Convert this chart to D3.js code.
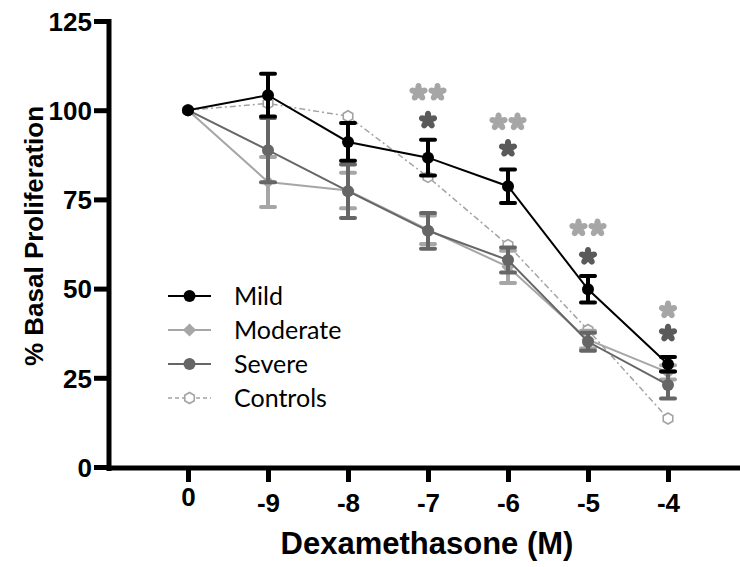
<!DOCTYPE html>
<html>
<head>
<meta charset="utf-8">
<script src="https://cdn.jsdelivr.net/npm/d3@7/dist/d3.min.js"></script>
<style>
  html, body { margin: 0; padding: 0; background: #fff; }
  svg { display: block; }
</style>
</head>
<body>
<svg id="chart" width="740" height="567"></svg>
<script>
// ---- data ----
const categories = ["0", "-9", "-8", "-7", "-6", "-5", "-4"];
const yTicks = [0, 25, 50, 75, 100, 125];
const seriesNames = ["Mild", "Moderate", "Severe", "Controls"];

const mild        = [100, 104.2, 91.1, 86.7, 78.7, 49.8, 28.8];
const mildErr     = [0, 6, 5.3, 5, 4.7, 3.7, 2];
const moderate    = [100, 79.9, 77.5, 66.5, 56.1, 35.7, 26.5];
const moderateErr = [0, 7, 5, 4, 4.5, 2.5, 2];
const severe      = [100, 88.8, 77.3, 66.2, 58.0, 35.1, 23.0];
const severeErr   = [0, 9, 7.5, 5, 3.5, 2.5, 3.8];
const controls    = [100, 101.9, 98.3, 81.3, 62.2, 38.4, 13.6];

// significance annotations
const starCats       = ["-7", "-6", "-5", "-4"];
const starLightText  = ["**", "**", "**", "*"];
const starLightY     = [105, 96.7, 67, 44];
const starDarkText   = ["*", "*", "*", "*"];
const starDarkY      = [97.2, 89.3, 59, 37.5];

// ---- setup ----
const svg = d3.select("#chart");
const FONT = "'Liberation Sans', Arial, Helvetica, sans-serif";

const x = d3.scalePoint().domain(categories).range([188, 668]);
const y = d3.scaleLinear().domain([0, 125]).range([467, 21]);

const C = {
  Mild: "#000000",
  Moderate: "#a6a6a6",
  Severe: "#666666",
  Controls: "#a3a3a3",
  starLight: "#a6a6a6",
  starDark: "#5a5a5a"
};

// ---- axes ----
const yAxis = d3.axisLeft(y).tickValues(yTicks).tickSize(15).tickPadding(2).tickFormat(d3.format("d"));
const gy = svg.append("g").attr("transform", "translate(109,0)").call(yAxis);
gy.select(".domain").remove();
gy.selectAll(".tick line").attr("stroke", "#000").attr("stroke-width", 5);
gy.selectAll(".tick text")
  .attr("font-family", FONT).attr("font-weight", "bold").attr("font-size", 26)
  .attr("fill", "#000").attr("dy", "0.36em");
gy.append("line").attr("x1", 0).attr("x2", 0).attr("y1", y(125) - 2).attr("y2", y(0) + 4)
  .attr("stroke", "#000").attr("stroke-width", 5);

const xAxis = d3.axisBottom(x).tickSize(14).tickPadding(10);
const gx = svg.append("g").attr("transform", `translate(0,${y(0) + 1})`).call(xAxis);
gx.select(".domain").remove();
gx.selectAll(".tick line").attr("stroke", "#000").attr("stroke-width", 5);
gx.selectAll(".tick text")
  .attr("font-family", FONT).attr("font-weight", "bold").attr("font-size", 26)
  .attr("fill", "#000")
  .attr("dy", d => d === "0" ? "0.55em" : "0.75em");
gx.append("line").attr("x1", 107).attr("x2", 740).attr("y1", 0).attr("y2", 0)
  .attr("stroke", "#000").attr("stroke-width", 5);

// axis titles
svg.append("text")
  .attr("x", 427).attr("y", 554)
  .attr("text-anchor", "middle")
  .attr("font-family", FONT).attr("font-weight", "bold").attr("font-size", 31)
  .text("Dexamethasone (M)");

svg.append("text")
  .attr("transform", "translate(43,236) rotate(-90)")
  .attr("text-anchor", "middle")
  .attr("font-family", FONT).attr("font-weight", "bold").attr("font-size", 26)
  .text("% Basal Proliferation");

// ---- series ----
const series = [
  { name: "Controls", values: controls, err: null, color: C.Controls, width: 1.5, dash: "6,3,2,3", marker: "hex" },
  { name: "Moderate", values: moderate, err: moderateErr, color: C.Moderate, width: 2, dash: null, marker: "diamond" },
  { name: "Severe", values: severe, err: severeErr, color: C.Severe, width: 2, dash: null, marker: "circle" },
  { name: "Mild", values: mild, err: mildErr, color: C.Mild, width: 2, dash: null, marker: "circle" }
];

const line = d3.line().x(d => x(d.c)).y(d => y(d.v));

function drawMarker(g, type, color, cx, cy) {
  if (type === "circle") {
    g.append("circle").attr("cx", cx).attr("cy", cy).attr("r", 6).attr("fill", color);
  } else if (type === "diamond") {
    g.append("path").attr("transform", `translate(${cx},${cy})`)
      .attr("d", d3.symbol().type(d3.symbolDiamond2).size(110)())
      .attr("fill", color);
  } else if (type === "hex") {
    const r = 5.5;
    const pts = d3.range(6).map(k => {
      const a = Math.PI / 6 + k * Math.PI / 3;
      return [cx + r * Math.cos(a), cy + r * Math.sin(a)];
    });
    g.append("polygon").attr("points", pts.map(p => p.join(",")).join(" "))
      .attr("fill", "#fff").attr("stroke", color).attr("stroke-width", 1.6);
  }
}

series.forEach(s => {
  const g = svg.append("g");
  const pts = categories.map((c, i) => ({ c, v: s.values[i], e: s.err ? s.err[i] : 0 }));
  if (s.err) {
    pts.filter(p => p.e > 0).forEach(p => {
      const cx = x(p.c);
      g.append("line").attr("x1", cx).attr("x2", cx).attr("y1", y(p.v + p.e)).attr("y2", y(p.v - p.e))
        .attr("stroke", s.color).attr("stroke-width", 4);
      [p.v + p.e, p.v - p.e].forEach(v => {
        g.append("line").attr("x1", cx - 7).attr("x2", cx + 7).attr("y1", y(v)).attr("y2", y(v))
          .attr("stroke", s.color).attr("stroke-width", 4).attr("stroke-linecap", "round");
      });
    });
  }
  g.append("path").datum(pts).attr("d", line)
    .attr("fill", "none").attr("stroke", s.color).attr("stroke-width", s.width)
    .attr("stroke-dasharray", s.dash);
  pts.forEach(p => drawMarker(g, s.marker, s.color, x(p.c), y(p.v)));
});

// ---- significance stars ----
function drawStar(g, cx, cy, color) {
  const sg = g.append("g").attr("transform", `translate(${cx},${cy})`);
  d3.range(5).forEach(k => {
    sg.append("ellipse").attr("cx", 0).attr("cy", -4.6).attr("rx", 3.2).attr("ry", 4.8)
      .attr("transform", `rotate(${k * 72})`).attr("fill", color);
  });
}
function drawStars(text, c, v, color) {
  const g = svg.append("g");
  const n = text.length;
  const cx = x(c);
  for (let k = 0; k < n; k++) {
    const off = (k - (n - 1) / 2) * 19;
    drawStar(g, cx + off, y(v), color);
  }
}
starCats.forEach((c, i) => {
  drawStars(starLightText[i], c, starLightY[i], C.starLight);
  drawStars(starDarkText[i], c, starDarkY[i], C.starDark);
});

// ---- legend ----
const legendRows = [
  { name: "Mild", color: C.Mild, dash: null, marker: "circle", width: 2 },
  { name: "Moderate", color: C.Moderate, dash: null, marker: "diamond", width: 2 },
  { name: "Severe", color: C.Severe, dash: null, marker: "circle", width: 2 },
  { name: "Controls", color: C.Controls, dash: "4,3", marker: "hex", width: 1.5 }
];
const lg = svg.append("g");
legendRows.forEach((r, i) => {
  const ly = 296 + i * 34;
  lg.append("line").attr("x1", 168).attr("x2", 211).attr("y1", ly).attr("y2", ly)
    .attr("stroke", r.color).attr("stroke-width", r.width).attr("stroke-dasharray", r.dash);
  drawMarker(lg, r.marker, r.color, 189.5, ly);
  lg.append("text").attr("x", 234).attr("y", ly + 9)
    .attr("font-family", "Lato, 'Open Sans', sans-serif").attr("font-size", 25)
    .attr("fill", "#000").text(r.name);
});
</script>
</body>
</html>
